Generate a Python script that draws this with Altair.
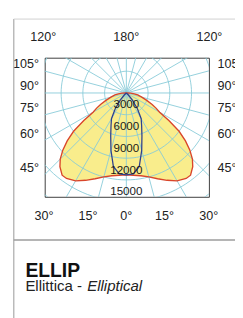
import altair as alt
import pandas as pd

# ---------------- data ----------------
RED_ANGLES = [0, 5, 10, 15, 20, 25, 30, 35, 38, 42, 45, 48, 51, 54, 57, 60, 63, 66, 70, 75, 80, 84, 87, 90]
RED_VALUES = [11300, 11400, 11600, 12000, 12600, 13300, 14000, 14400, 14400, 13700, 12900, 11800,
              10500, 9000, 7000, 5300, 4600, 3900, 3000, 2200, 1600, 1100, 600, 0]
BLUE_ANGLES = [0, 5, 10, 15, 20, 25, 30, 35, 40, 45, 50]
BLUE_VALUES = [11300, 11200, 10300, 8200, 6300, 5000, 4100, 2700, 1300, 400, 0]

RING_VALUES = [3000, 6000, 9000, 12000, 15000, 18000, 21000]
RING_LABELS = [3000, 6000, 9000, 12000, 15000]
RAY_ANGLES = list(range(0, 360, 15))

TOP_ANGLES = [120, 180, 120]
TOP_SIDES = [-1, 0, 1]
SIDE_ANGLES = [105, 90, 75, 60, 45]
BOTTOM_ANGLES = [30, 15, 0, 15, 30]
BOTTOM_SIDES = [-1, -1, 0, 1, 1]

TITLE = "ELLIP"
SUB_IT = "Ellittica - "
SUB_EN = "Elliptical"

# ---------------- styling ----------------
FONT = "Liberation Sans"
GRID = "#86cad8"
YELLOW = "#f9ed8c"
RED = "#d9452a"
BLUE = "#2d3f8e"

XS = alt.Scale(domain=[-11267, 11400], nice=False, zero=False)
YS = alt.Scale(domain=[-14333, 4867], nice=False, zero=False)


def mirrored(angles, values):
    rows = []
    i = 0
    for a, v in zip(angles[::-1], values[::-1]):
        rows.append({"i": i, "a": a, "v": v, "s": -1})
        i += 1
    for a, v in zip(angles[1:], values[1:]):
        rows.append({"i": i, "a": a, "v": v, "s": 1})
        i += 1
    return pd.DataFrame(rows)


def polar(chart):
    return chart.transform_calculate(
        x="datum.s * datum.v * sin(datum.a * PI / 180)",
        y="-datum.v * cos(datum.a * PI / 180)",
    )


def xy_enc(order=None, detail=None):
    enc = dict(
        x=alt.X("x:Q", scale=XS, axis=None),
        y=alt.Y("y:Q", scale=YS, axis=None),
    )
    if order:
        enc["order"] = alt.Order(order)
    if detail:
        enc["detail"] = alt.Detail(detail)
    return enc


red_df = mirrored(RED_ANGLES, RED_VALUES)
blue_df = mirrored(BLUE_ANGLES, BLUE_VALUES)

# fill of the red distribution
red_fill = polar(alt.Chart(red_df)).mark_line(
    filled=True, fill=YELLOW, strokeWidth=0, clip=True
).encode(**xy_enc("i:Q"))

# polar grid: rings
ring_rows = [{"r": r, "t": t} for r in RING_VALUES for t in range(0, 361, 3)]
rings = alt.Chart(pd.DataFrame(ring_rows)).transform_calculate(
    x="datum.r * sin(datum.t * PI / 180)",
    y="datum.r * cos(datum.t * PI / 180)",
).mark_line(color=GRID, strokeWidth=0.9, clip=True).encode(**xy_enc("t:Q", "r:N"))

# polar grid: rays
rays = alt.Chart(pd.DataFrame({"a": RAY_ANGLES})).transform_calculate(
    x0="0", y0="0",
    x1="25000 * sin(datum.a * PI / 180)",
    y1="25000 * cos(datum.a * PI / 180)",
).mark_rule(color=GRID, strokeWidth=0.9, clip=True).encode(
    x=alt.X("x0:Q", scale=XS, axis=None),
    y=alt.Y("y0:Q", scale=YS, axis=None),
    x2="x1:Q",
    y2="y1:Q",
)

red_line = polar(alt.Chart(red_df)).mark_line(
    color=RED, strokeWidth=1.4, clip=True
).encode(**xy_enc("i:Q"))

blue_line = polar(alt.Chart(blue_df)).mark_line(
    color=BLUE, strokeWidth=1.3, clip=True
).encode(**xy_enc("i:Q"))

# intensity labels
ring_lab = alt.Chart(pd.DataFrame({"v": RING_LABELS})).transform_calculate(
    x="0", y="-(datum.v - 1400)", lab="format(datum.v, 'd')"
).mark_text(font=FONT, fontSize=12, color="#1a1a1a", baseline="middle", align="center").encode(
    x=alt.X("x:Q", scale=XS, axis=None),
    y=alt.Y("y:Q", scale=YS, axis=None),
    text="lab:N",
)

# angle labels
top_df = pd.DataFrame({"a": TOP_ANGLES, "s": TOP_SIDES})
top_lab = alt.Chart(top_df).transform_calculate(
    x="datum.s * 11467", y="7667", lab="datum.a + '°'"
).mark_text(font=FONT, fontSize=13, color="#222", baseline="middle", align="center").encode(
    x=alt.X("x:Q", scale=XS, axis=None),
    y=alt.Y("y:Q", scale=YS, axis=None),
    text="lab:N",
)

side_df = pd.DataFrame({"a": SIDE_ANGLES})
left_lab = alt.Chart(side_df).transform_calculate(
    x="-12050",
    y="-11333 * cos(datum.a * PI / 180) / sin(datum.a * PI / 180) + 900",
    lab="datum.a + '°'",
).mark_text(font=FONT, fontSize=13, color="#222", baseline="middle", align="right").encode(
    x=alt.X("x:Q", scale=XS, axis=None),
    y=alt.Y("y:Q", scale=YS, axis=None),
    text="lab:N",
)
right_lab = alt.Chart(side_df).transform_calculate(
    x="12600",
    y="-11333 * cos(datum.a * PI / 180) / sin(datum.a * PI / 180) + 900",
    lab="datum.a + '°'",
).mark_text(font=FONT, fontSize=13, color="#222", baseline="middle", align="left").encode(
    x=alt.X("x:Q", scale=XS, axis=None),
    y=alt.Y("y:Q", scale=YS, axis=None),
    text="lab:N",
)

bottom_df = pd.DataFrame({"a": BOTTOM_ANGLES, "s": BOTTOM_SIDES})
bottom_lab = alt.Chart(bottom_df).transform_calculate(
    x="datum.s * 19700 * tan(datum.a * PI / 180)",
    y="-17000",
    lab="datum.a + '°'",
).mark_text(font=FONT, fontSize=13, color="#222", baseline="middle", align="center").encode(
    x=alt.X("x:Q", scale=XS, axis=None),
    y=alt.Y("y:Q", scale=YS, axis=None),
    text="lab:N",
)

# frame decoration
frame_left = alt.Chart().mark_rule(color="#a8a8a8", strokeWidth=1.2).encode(
    x=alt.value(-32), y=alt.value(-40), y2=alt.value(270)
)
frame_top = alt.Chart().mark_rule(color="#cfcfcf", strokeWidth=1).encode(
    x=alt.value(-32), x2=alt.value(200), y=alt.value(-40)
)
frame_sep = alt.Chart().mark_rule(color="#9c9c9c", strokeWidth=1.6).encode(
    x=alt.value(-32), x2=alt.value(200), y=alt.value(188.7)
)

title = alt.Chart().mark_text(
    font=FONT, fontSize=20, fontWeight="bold", color="#111", align="left", baseline="alphabetic"
).encode(x=alt.value(-20), y=alt.value(226.5), text=alt.value(TITLE))
sub1 = alt.Chart().mark_text(
    font=FONT, fontSize=15.5, color="#222", align="left", baseline="alphabetic"
).encode(x=alt.value(-20), y=alt.value(242), text=alt.value(SUB_IT))
sub2 = alt.Chart().mark_text(
    font=FONT, fontSize=15.5, fontStyle="italic", color="#222", align="left", baseline="alphabetic"
).encode(x=alt.value(44), y=alt.value(242), text=alt.value(SUB_EN))

chart = alt.layer(
    red_fill, rings, rays, red_line, blue_line, ring_lab,
    top_lab, left_lab, right_lab, bottom_lab,
    frame_left, frame_top, frame_sep, title, sub1, sub2,
).properties(
    width=170,
    height=144,
    autosize=alt.AutoSizeParams(type="none"),
    padding={"left": 38, "top": 46, "right": 27, "bottom": 120},
    background="white",
).configure_view(stroke="#3a3a3a", strokeWidth=1)

chart.save("out.html", embed_options={"renderer": "svg", "actions": False})
